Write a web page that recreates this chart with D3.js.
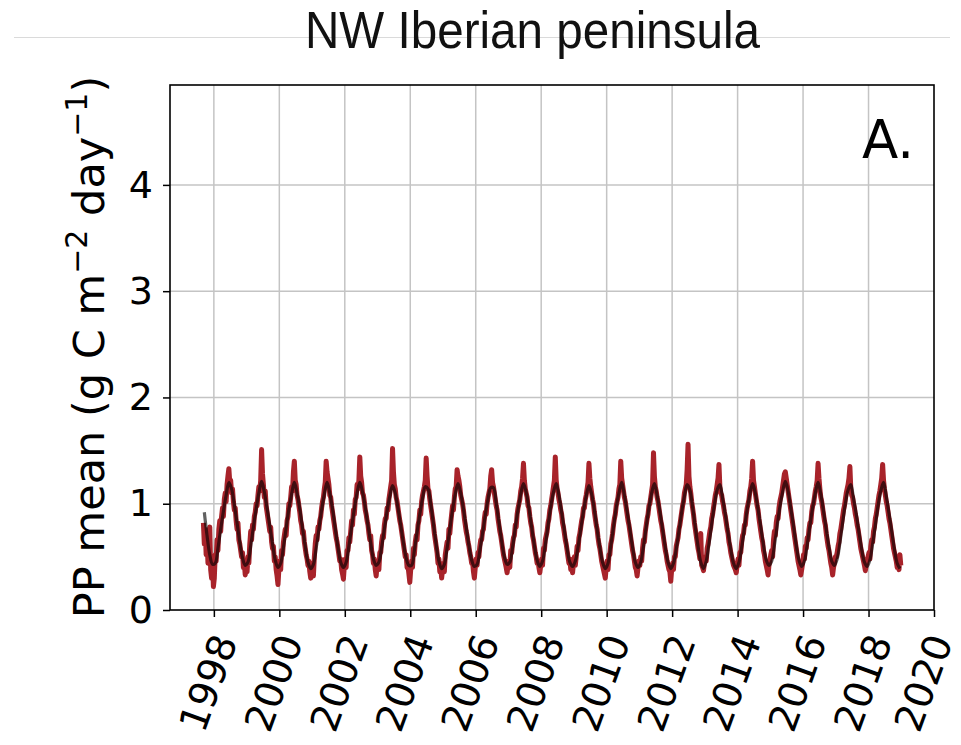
<!DOCTYPE html>
<html>
<head>
<meta charset="utf-8">
<script src="https://cdn.jsdelivr.net/npm/d3@7"></script>
<style>
  html, body { margin: 0; padding: 0; background: #fff; }
  svg { display: block; }
</style>
</head>
<body>
<svg id="chart" width="961" height="745"></svg>
<script>
// NW Iberian peninsula — mean primary production, 1997–2018
// red: dekadal (~10-day) means, dark: monthly smoothed curve

const xTicks = [1998, 2000, 2002, 2004, 2006, 2008, 2010, 2012, 2014, 2016, 2018, 2020];
const yTicks = [0, 1, 2, 3, 4];

// first sample of each series: [year, month index]
const redStart = [1997, 8];
const blackStart = [1997, 8];

// 3 values per month (days ~5, 15, 25), one row per year
const redValues = [
  0.82, 0.62, 0.76, 0.52, 0.68, 0.44, 0.56, 0.78, 0.38, 0.30, 0.45, 0.22,
  0.30, 0.52, 0.46, 0.66, 0.56, 0.76, 0.84, 0.74, 0.88, 0.96, 0.88, 1.04, 1.10, 1.02, 1.18, 1.26, 1.33, 1.20, 1.22, 1.10, 1.14, 1.02, 0.94, 0.96, 0.84, 0.76, 0.82, 0.66, 0.62, 0.56, 0.50, 0.54, 0.40, 0.44, 0.33, 0.38,
  0.36, 0.50, 0.44, 0.62, 0.74, 0.66, 0.80, 0.76, 0.88, 0.92, 1.00, 0.98, 1.08, 1.16, 1.12, 1.22, 1.51, 1.28, 1.18, 1.06, 1.12, 0.98, 0.92, 0.86, 0.80, 0.74, 0.78, 0.64, 0.58, 0.60, 0.46, 0.50, 0.38, 0.32, 0.24, 0.38,
  0.46, 0.38, 0.56, 0.52, 0.64, 0.70, 0.76, 0.70, 0.84, 0.88, 1.00, 0.98, 1.06, 1.16, 1.12, 1.30, 1.40, 1.22, 1.18, 1.08, 1.04, 0.98, 0.92, 0.84, 0.80, 0.72, 0.74, 0.64, 0.58, 0.52, 0.48, 0.42, 0.46, 0.36, 0.30, 0.38,
  0.44, 0.32, 0.50, 0.62, 0.70, 0.66, 0.78, 0.76, 0.84, 0.88, 0.96, 1.02, 1.06, 1.14, 1.20, 1.40, 1.30, 1.24, 1.18, 1.08, 1.06, 0.98, 0.92, 0.86, 0.80, 0.74, 0.68, 0.64, 0.58, 0.52, 0.46, 0.48, 0.38, 0.34, 0.29, 0.42,
  0.48, 0.40, 0.56, 0.56, 0.68, 0.64, 0.74, 0.84, 0.80, 0.94, 0.90, 1.04, 1.06, 1.18, 1.14, 1.22, 1.44, 1.26, 1.20, 1.10, 1.08, 1.02, 0.94, 0.90, 0.84, 0.80, 0.72, 0.66, 0.70, 0.56, 0.52, 0.44, 0.48, 0.38, 0.32, 0.42,
  0.46, 0.38, 0.54, 0.54, 0.64, 0.70, 0.68, 0.80, 0.86, 0.86, 0.96, 0.94, 1.04, 1.10, 1.16, 1.22, 1.52, 1.30, 1.18, 1.14, 1.06, 1.02, 0.96, 0.90, 0.84, 0.80, 0.74, 0.68, 0.62, 0.56, 0.50, 0.52, 0.40, 0.42, 0.34, 0.26,
  0.38, 0.46, 0.40, 0.58, 0.52, 0.64, 0.70, 0.66, 0.80, 0.84, 0.94, 0.90, 1.02, 1.08, 1.12, 1.16, 1.22, 1.43, 1.26, 1.14, 1.12, 1.04, 0.98, 0.92, 0.86, 0.80, 0.72, 0.66, 0.60, 0.54, 0.44, 0.48, 0.36, 0.40, 0.30, 0.38,
  0.44, 0.36, 0.52, 0.58, 0.64, 0.58, 0.76, 0.72, 0.82, 0.90, 0.98, 0.94, 1.06, 1.14, 1.16, 1.32, 1.26, 1.22, 1.16, 1.08, 1.04, 1.00, 0.94, 0.86, 0.80, 0.74, 0.70, 0.64, 0.60, 0.54, 0.50, 0.44, 0.46, 0.36, 0.30, 0.40,
  0.48, 0.42, 0.54, 0.50, 0.60, 0.66, 0.66, 0.74, 0.76, 0.86, 0.92, 0.90, 1.00, 1.06, 1.10, 1.14, 1.26, 1.32, 1.20, 1.16, 1.10, 1.04, 0.98, 0.94, 0.86, 0.80, 0.74, 0.70, 0.64, 0.58, 0.52, 0.48, 0.44, 0.40, 0.35, 0.42,
  0.46, 0.40, 0.56, 0.54, 0.62, 0.68, 0.70, 0.80, 0.78, 0.90, 0.96, 1.00, 1.04, 1.12, 1.16, 1.24, 1.38, 1.22, 1.14, 1.10, 1.06, 0.98, 0.96, 0.88, 0.82, 0.78, 0.70, 0.66, 0.60, 0.54, 0.50, 0.44, 0.46, 0.40, 0.35, 0.42,
  0.48, 0.42, 0.58, 0.56, 0.66, 0.70, 0.74, 0.82, 0.86, 0.94, 0.98, 1.04, 1.10, 1.16, 1.22, 1.44, 1.22, 1.14, 1.10, 1.04, 1.00, 0.94, 0.90, 0.82, 0.78, 0.72, 0.66, 0.62, 0.56, 0.50, 0.44, 0.48, 0.38, 0.42, 0.35, 0.44,
  0.50, 0.42, 0.50, 0.60, 0.56, 0.68, 0.72, 0.78, 0.84, 0.88, 0.96, 0.96, 1.04, 1.08, 1.14, 1.20, 1.38, 1.24, 1.16, 1.10, 1.04, 1.00, 0.92, 0.86, 0.80, 0.76, 0.68, 0.62, 0.58, 0.52, 0.46, 0.42, 0.38, 0.34, 0.30, 0.40,
  0.46, 0.38, 0.52, 0.52, 0.62, 0.66, 0.72, 0.80, 0.86, 0.90, 0.98, 1.02, 1.06, 1.14, 1.18, 1.40, 1.24, 1.18, 1.12, 1.06, 1.02, 0.96, 0.90, 0.84, 0.80, 0.74, 0.68, 0.62, 0.56, 0.52, 0.46, 0.40, 0.38, 0.32, 0.40, 0.46,
  0.42, 0.50, 0.46, 0.58, 0.66, 0.64, 0.74, 0.80, 0.86, 0.90, 0.98, 1.00, 1.06, 1.12, 1.18, 1.48, 1.26, 1.16, 1.12, 1.06, 1.02, 0.96, 0.90, 0.84, 0.80, 0.74, 0.68, 0.62, 0.56, 0.52, 0.46, 0.42, 0.38, 0.36, 0.27, 0.38,
  0.44, 0.38, 0.50, 0.50, 0.60, 0.64, 0.68, 0.76, 0.80, 0.86, 0.92, 0.98, 1.02, 1.10, 1.14, 1.18, 1.32, 1.56, 1.26, 1.16, 1.10, 1.02, 0.96, 0.90, 0.82, 0.76, 0.70, 0.64, 0.58, 0.54, 0.48, 0.72, 0.42, 0.40, 0.37, 0.44,
  0.50, 0.46, 0.58, 0.62, 0.68, 0.74, 0.78, 0.86, 0.90, 0.96, 1.02, 1.08, 1.12, 1.18, 1.24, 1.37, 1.16, 1.10, 1.08, 1.02, 0.98, 0.92, 0.88, 0.82, 0.76, 0.72, 0.64, 0.60, 0.54, 0.50, 0.46, 0.42, 0.40, 0.38, 0.35, 0.42,
  0.48, 0.42, 0.54, 0.54, 0.64, 0.70, 0.72, 0.80, 0.80, 0.90, 0.96, 1.00, 1.04, 1.12, 1.16, 1.24, 1.40, 1.22, 1.16, 1.10, 1.04, 0.98, 0.94, 0.86, 0.80, 0.74, 0.68, 0.64, 0.56, 0.52, 0.46, 0.42, 0.38, 0.33, 0.42, 0.46,
  0.52, 0.56, 0.50, 0.66, 0.74, 0.70, 0.82, 0.88, 0.86, 0.96, 1.02, 1.06, 1.10, 1.16, 1.22, 1.28, 1.30, 1.24, 1.18, 1.12, 1.06, 1.00, 0.94, 0.88, 0.82, 0.76, 0.70, 0.64, 0.58, 0.52, 0.46, 0.42, 0.38, 0.33, 0.38, 0.44,
  0.52, 0.48, 0.60, 0.58, 0.68, 0.66, 0.76, 0.82, 0.82, 0.92, 0.98, 1.00, 1.06, 1.12, 1.16, 1.22, 1.38, 1.24, 1.14, 1.06, 1.02, 0.96, 0.90, 0.84, 0.80, 0.72, 0.66, 0.60, 0.56, 0.50, 0.44, 0.40, 0.33, 0.40, 0.44, 0.50,
  0.50, 0.54, 0.60, 0.64, 0.72, 0.76, 0.82, 0.88, 0.94, 0.98, 1.04, 1.10, 1.14, 1.18, 1.24, 1.35, 1.14, 1.08, 1.06, 1.00, 0.96, 0.90, 0.86, 0.80, 0.76, 0.70, 0.64, 0.58, 0.54, 0.50, 0.46, 0.42, 0.37, 0.42, 0.46, 0.50,
  0.54, 0.48, 0.60, 0.66, 0.64, 0.74, 0.78, 0.86, 0.90, 0.96, 1.02, 1.08, 1.12, 1.18, 1.24, 1.37, 1.22, 1.14, 1.08, 1.02, 0.98, 0.92, 0.86, 0.82, 0.76, 0.70, 0.64, 0.58, 0.54, 0.50, 0.46, 0.40, 0.42, 0.38, 0.52, 0.42
];

// one value per month, one row per year
const blackValues = [
  0.92, 0.70, 0.52, 0.43,
  0.44, 0.58, 0.76, 0.93, 1.08, 1.20, 1.14, 0.99, 0.82, 0.64, 0.49, 0.42,
  0.45, 0.60, 0.78, 0.95, 1.10, 1.21, 1.11, 0.96, 0.79, 0.62, 0.47, 0.40,
  0.44, 0.59, 0.77, 0.95, 1.09, 1.20, 1.10, 0.95, 0.77, 0.60, 0.45, 0.39,
  0.43, 0.58, 0.76, 0.94, 1.09, 1.20, 1.10, 0.95, 0.77, 0.59, 0.45, 0.40,
  0.45, 0.60, 0.78, 0.95, 1.10, 1.20, 1.11, 0.97, 0.80, 0.63, 0.48, 0.42,
  0.45, 0.59, 0.76, 0.93, 1.07, 1.17, 1.10, 0.96, 0.80, 0.63, 0.49, 0.42,
  0.42, 0.56, 0.73, 0.90, 1.05, 1.16, 1.14, 1.00, 0.81, 0.62, 0.46, 0.39,
  0.43, 0.58, 0.76, 0.94, 1.09, 1.19, 1.10, 0.95, 0.78, 0.61, 0.47, 0.41,
  0.43, 0.56, 0.72, 0.89, 1.04, 1.15, 1.15, 1.01, 0.83, 0.65, 0.50, 0.43,
  0.45, 0.59, 0.77, 0.94, 1.09, 1.19, 1.11, 0.96, 0.78, 0.61, 0.47, 0.41,
  0.46, 0.61, 0.79, 0.97, 1.11, 1.19, 1.08, 0.92, 0.75, 0.58, 0.45, 0.41,
  0.46, 0.59, 0.76, 0.93, 1.07, 1.17, 1.09, 0.94, 0.76, 0.59, 0.45, 0.39,
  0.44, 0.60, 0.78, 0.96, 1.10, 1.20, 1.08, 0.93, 0.76, 0.59, 0.45, 0.40,
  0.45, 0.60, 0.78, 0.96, 1.10, 1.19, 1.08, 0.93, 0.76, 0.59, 0.45, 0.39,
  0.44, 0.57, 0.74, 0.92, 1.07, 1.18, 1.13, 0.97, 0.78, 0.60, 0.45, 0.39,
  0.46, 0.62, 0.81, 0.99, 1.13, 1.18, 1.05, 0.90, 0.73, 0.57, 0.44, 0.39,
  0.45, 0.59, 0.77, 0.94, 1.09, 1.19, 1.10, 0.95, 0.78, 0.61, 0.47, 0.42,
  0.46, 0.61, 0.79, 0.97, 1.11, 1.21, 1.12, 0.96, 0.79, 0.61, 0.47, 0.41,
  0.46, 0.61, 0.79, 0.96, 1.10, 1.20, 1.09, 0.93, 0.76, 0.59, 0.46, 0.42,
  0.48, 0.63, 0.82, 1.00, 1.13, 1.18, 1.05, 0.90, 0.73, 0.57, 0.45, 0.41,
  0.47, 0.62, 0.80, 0.98, 1.12, 1.20, 1.07, 0.91, 0.74, 0.57, 0.44, 0.39
];

const RED = '#a8232a', GRID = '#c4c4c4', INK = '#000';
const svg = d3.select('#chart');
const L = 170, R = 934, T = 85, B = 610;

const x = d3.scaleLinear().domain([1996.66, 2020.0]).range([L, R]);
const y = d3.scaleLinear().domain([0, 4.94]).range([B, T]);

// sample dates from position in the flat arrays
const redPts = redValues.map((v, i) => {
  const m = redStart[1] + Math.floor(i / 3), d = i % 3;
  return [redStart[0] + (m + (d * 10 + 5) / 30) / 12, v];
});
const blackPts = blackValues.map((v, i) => {
  const m = blackStart[1] + i;
  return [blackStart[0] + (m + 0.5) / 12, v];
});

// title + faint rule behind it
svg.append('line').attr('x1', 14).attr('x2', 950).attr('y1', 37.5).attr('y2', 37.5)
  .attr('stroke', '#dadada').attr('stroke-width', 1);
svg.append('text').attr('x', 305).attr('y', 48)
  .attr('font-family', '"Liberation Sans", Arial, sans-serif').attr('font-size', 52)
  .attr('textLength', 455).attr('lengthAdjust', 'spacingAndGlyphs')
  .attr('fill', '#111').text('NW Iberian peninsula');

// grid
const g = svg.append('g');
g.selectAll('.vg').data(xTicks.filter(t => x(t) < R - 1)).join('line')
  .attr('x1', d => x(d)).attr('x2', d => x(d)).attr('y1', T).attr('y2', B)
  .attr('stroke', GRID).attr('stroke-width', 1.5);
g.selectAll('.hg').data(yTicks.filter(t => t > 0)).join('line')
  .attr('x1', L).attr('x2', R).attr('y1', d => y(d)).attr('y2', d => y(d))
  .attr('stroke', GRID).attr('stroke-width', 1.5);

// series
const redLine = d3.line().x(d => x(d[0])).y(d => y(d[1])).curve(d3.curveLinear);
const blackLine = d3.line().x(d => x(d[0])).y(d => y(d[1])).curve(d3.curveCatmullRom);
svg.append('path').datum(redPts).attr('d', redLine)
  .attr('fill', 'none').attr('stroke', RED).attr('stroke-width', 5).attr('stroke-linejoin', 'round');
svg.append('path').datum(blackPts).attr('d', blackLine)
  .attr('fill', 'none').attr('stroke', '#000').attr('stroke-opacity', 0.62).attr('stroke-width', 3.2);

// frame
svg.append('rect').attr('x', L).attr('y', T).attr('width', R - L).attr('height', B - T)
  .attr('fill', 'none').attr('stroke', INK).attr('stroke-width', 1.6);

// axes
const xAxis = svg.append('g').attr('transform', `translate(0,${B})`)
  .call(d3.axisBottom(x).tickValues(xTicks).tickSize(7).tickFormat(d3.format('d')));
const yAxis = svg.append('g').attr('transform', `translate(${L},0)`)
  .call(d3.axisLeft(y).tickValues(yTicks).tickSize(7).tickPadding(10).tickFormat(d3.format('d')));
[xAxis, yAxis].forEach(a => {
  a.select('.domain').remove();
  a.selectAll('.tick line').attr('stroke', INK).attr('stroke-width', 1.5);
  a.selectAll('text').attr('font-family', '"DejaVu Sans", sans-serif').attr('font-size', 38).attr('fill', INK);
});
// rotated year labels; the last one is nudged in so it stays inside the page
xAxis.selectAll('.tick text')
  .attr('y', 0).attr('dy', 0).attr('font-size', 39)
  .attr('text-anchor', 'middle').attr('dominant-baseline', 'central')
  .attr('transform', (d, i, n) => `translate(${i === n.length - 1 ? -11 : -6},73) rotate(-70)`);

// y label with superscripts
const yl = svg.append('text').attr('transform', 'translate(104,347) rotate(-90)')
  .attr('text-anchor', 'middle').attr('font-family', '"DejaVu Sans", sans-serif')
  .attr('font-size', 43).attr('fill', INK);
yl.append('tspan').text('PP mean (g C m');
yl.append('tspan').attr('font-size', 30).attr('dy', -17).text('−2');
yl.append('tspan').attr('dy', 17).text(' day');
yl.append('tspan').attr('font-size', 30).attr('dy', -17).text('−1');
yl.append('tspan').attr('dy', 17).text(')');

// panel letter
svg.append('text').attr('x', 862).attr('y', 158)
  .attr('font-family', '"DejaVu Sans", sans-serif').attr('font-size', 53).attr('fill', INK).text('A.');
</script>
</body>
</html>
